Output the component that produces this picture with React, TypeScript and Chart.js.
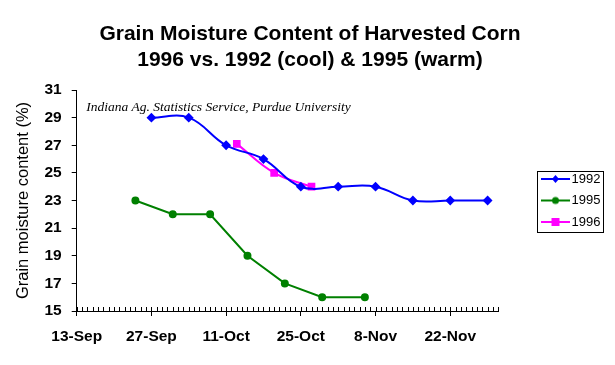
import React, { useEffect, useRef } from "react";
import { Chart, registerables } from "chart.js";

Chart.register(...registerables);

// ---------- data ----------
const titleLines = ["Grain Moisture Content of Harvested Corn", "1996 vs. 1992 (cool) & 1995 (warm)"];
const yAxisTitle = "Grain moisture content (%)";
const sourceNote = "Indiana Ag. Statistics Service, Purdue University";

const xAxisStart = "13-Sep";
const xAxisEnd = "1-Dec";
const xTickLabels = ["13-Sep", "27-Sep", "11-Oct", "25-Oct", "8-Nov", "22-Nov"];
const yTickMin = 15;
const yTickMax = 31;
const yTickStep = 2;

const seriesNames = ["1992", "1995", "1996"];
const seriesColors = ["#0000FF", "#008000", "#FF00FF"];

const dates1992 = ["27-Sep", "4-Oct", "11-Oct", "18-Oct", "25-Oct", "1-Nov", "8-Nov", "15-Nov", "22-Nov", "29-Nov"];
const values1992 = [29, 29, 27, 26, 24, 24, 24, 23, 23, 23];

const dates1995 = ["24-Sep", "1-Oct", "8-Oct", "15-Oct", "22-Oct", "29-Oct", "6-Nov"];
const values1995 = [23, 22, 22, 19, 17, 16, 16];

const dates1996 = ["13-Oct", "20-Oct", "27-Oct"];
const values1996 = [27.1, 25, 24];

// ---------- helpers ----------
const monthStart: Record<string, number> = { Sep: 0, Oct: 30, Nov: 61, Dec: 91 };
const baseDay = 13;
const dayIndex = (s: string) => {
  const [d, m] = s.split("-");
  return monthStart[m] + Number(d) - baseDay;
};
const toPoints = (dates: string[], vals: number[]) =>
  dates.map((d, i) => ({ x: dayIndex(d), y: vals[i] }));

const FONT = "Arial, 'Liberation Sans', Helvetica, sans-serif";
const pointStyles = ["rectRot", "circle", "rect"];

function makeLegendImage(color: string, style: string): HTMLCanvasElement {
  const c = document.createElement("canvas");
  c.width = 40;
  c.height = 12;
  const g = c.getContext("2d")!;
  g.strokeStyle = color;
  g.fillStyle = color;
  g.lineWidth = 2;
  g.beginPath();
  g.moveTo(8, 6);
  g.lineTo(37, 6);
  g.stroke();
  const cx = 22.5;
  const cy = 6;
  g.beginPath();
  if (style === "rectRot") {
    g.moveTo(cx, cy - 4);
    g.lineTo(cx + 3.5, cy);
    g.lineTo(cx, cy + 4);
    g.lineTo(cx - 3.5, cy);
    g.closePath();
  } else if (style === "circle") {
    g.arc(cx, cy, 3.5, 0, Math.PI * 2);
  } else {
    g.rect(cx - 4, cy - 4, 8, 8);
  }
  g.fill();
  return c;
}

export default function App() {
  const ref = useRef<HTMLCanvasElement | null>(null);

  useEffect(() => {
    document.body.style.margin = "0";
    const canvas = ref.current!;
    const legendImages = seriesColors.map((c, i) => makeLegendImage(c, pointStyles[i]));

    const minorTicks = {
      id: "minorTicks",
      afterDraw(chart: any) {
        const xs = chart.scales.x;
        const ctx = chart.ctx;
        const bottom = chart.chartArea.bottom;
        ctx.save();
        ctx.strokeStyle = "#000";
        ctx.lineWidth = 1;
        ctx.beginPath();
        for (let d = dayIndex(xAxisStart); d <= dayIndex(xAxisEnd); d++) {
          const px = Math.round(xs.getPixelForValue(d)) + 0.5;
          ctx.moveTo(px, bottom);
          ctx.lineTo(px, bottom - 4);
        }
        ctx.stroke();
        ctx.restore();
      },
    };

    const notePlugin = {
      id: "note",
      afterDraw(chart: any) {
        const ctx = chart.ctx;
        const a = chart.chartArea;
        ctx.save();
        ctx.font = "italic 13.5px 'Times New Roman', 'Liberation Serif', serif";
        ctx.fillStyle = "#000";
        ctx.textBaseline = "middle";
        ctx.textAlign = "left";
        ctx.fillText(sourceNote, a.left + 9.5, a.top + 17);
        ctx.restore();
      },
    };

    const legendBorder = {
      id: "legendBorder",
      afterDraw(chart: any) {
        const lg = chart.legend;
        if (!lg || !lg.legendHitBoxes || !lg.legendHitBoxes.length) return;
        const hb = lg.legendHitBoxes;
        const first = hb[0];
        const last = hb[hb.length - 1];
        const ctx = chart.ctx;
        ctx.save();
        ctx.strokeStyle = "#000";
        ctx.lineWidth = 1;
        const left = Math.round(first.left - 4) + 0.5;
        const top = Math.round(first.top - 2) + 0.5;
        const right = Math.round(first.left + 62) + 0.5;
        const bottom = Math.round(last.top + last.height + 3) + 0.5;
        ctx.strokeRect(left, top, right - left, bottom - top);
        ctx.restore();
      },
    };

    const chart = new Chart(canvas, {
      type: "line",
      data: {
        datasets: [
          {
            label: seriesNames[0],
            data: toPoints(dates1992, values1992),
            borderColor: seriesColors[0],
            backgroundColor: seriesColors[0],
            borderWidth: 2,
            pointStyle: pointStyles[0],
            pointRadius: 3.5,
            tension: 0.4,
            xAxisID: "x",
            yAxisID: "y",
          },
          {
            label: seriesNames[1],
            data: toPoints(dates1995, values1995),
            borderColor: seriesColors[1],
            backgroundColor: seriesColors[1],
            borderWidth: 2,
            pointStyle: pointStyles[1],
            pointRadius: 3,
            tension: 0,
            xAxisID: "x",
            yAxisID: "y",
          },
          {
            label: seriesNames[2],
            data: toPoints(dates1996, values1996),
            borderColor: seriesColors[2],
            backgroundColor: seriesColors[2],
            borderWidth: 2,
            pointStyle: pointStyles[2],
            pointRadius: 4,
            tension: 0.4,
            xAxisID: "x",
            yAxisID: "y",
          },
        ],
      },
      options: {
        animation: false,
        responsive: false,
        maintainAspectRatio: false,
        devicePixelRatio: 1,
        layout: { padding: { left: 9.6, right: 4.6, top: 0, bottom: 0 } },
        scales: {
          x: {
            type: "linear",
            position: "bottom",
            min: dayIndex(xAxisStart),
            max: dayIndex(xAxisEnd),
            afterFit: (s: any) => {
              s.height = 54;
            },
            ticks: {
              stepSize: 14,
              includeBounds: false,
              autoSkip: false,
              maxRotation: 0,
              padding: 11,
              color: "#000",
              font: { family: FONT, size: 15.5, weight: "bold" },
              callback: (v: any) => xTickLabels[Math.round(Number(v) / 14)] ?? "",
            },
            grid: { display: true, drawOnChartArea: false, drawTicks: true, tickLength: 5, color: "#000" },
            border: { display: true, color: "#000", width: 1 },
          },
          y: {
            type: "linear",
            position: "left",
            min: yTickMin,
            max: yTickMax,
            afterFit: (s: any) => {
              s.width = 67.1;
            },
            ticks: {
              stepSize: yTickStep,
              padding: 10,
              color: "#000",
              font: { family: FONT, size: 15.5, weight: "bold" },
            },
            grid: { display: true, drawOnChartArea: false, drawTicks: true, tickLength: 5, color: "#000" },
            border: { display: true, color: "#000", width: 1 },
            title: {
              display: true,
              text: yAxisTitle,
              color: "#000",
              font: { family: FONT, size: 16.5 },
              padding: { top: 4, bottom: 0 },
            },
          },
          gap: {
            type: "linear",
            position: "right",
            display: true,
            afterFit: (s: any) => {
              s.width = 34.2;
            },
            ticks: { display: false },
            grid: { display: false, drawTicks: false },
            border: { display: false },
          },
        },
        plugins: {
          title: {
            display: true,
            text: titleLines,
            color: "#000",
            font: { family: FONT, size: 21, weight: "bold", lineHeight: 1.25 },
            padding: { top: 21, bottom: 16.5 },
          },
          legend: {
            display: true,
            position: "right",
            fullSize: false,
            labels: {
              usePointStyle: true,
              pointStyleWidth: 24,
              padding: 8.5,
              color: "#000",
              font: { family: FONT, size: 13 },
              generateLabels: (ch: any) => {
                const items = Chart.defaults.plugins.legend.labels.generateLabels(ch);
                return items.map((it: any, i: number) => ({ ...it, pointStyle: legendImages[i] }));
              },
            },
          },
          tooltip: { enabled: false },
        },
      },
      plugins: [minorTicks, notePlugin, legendBorder],
    } as any);

    return () => chart.destroy();
  }, []);

  return (
    <div style={{ position: "absolute", left: 0, top: 0, width: 615, height: 365, background: "#fff" }}>
      <canvas ref={ref} width={615} height={365} style={{ width: 615, height: 365, display: "block" }} />
    </div>
  );
}
